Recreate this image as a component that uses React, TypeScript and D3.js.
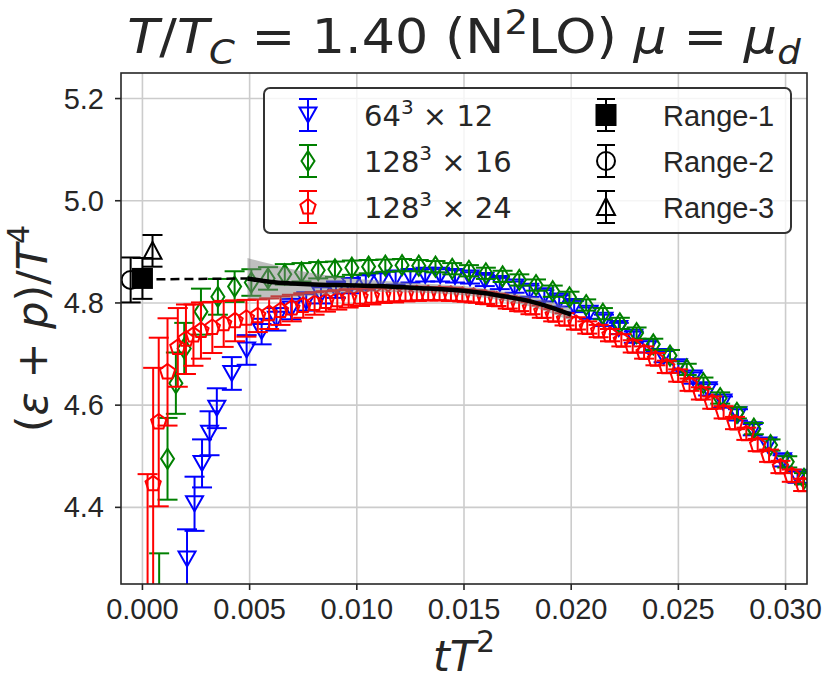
import React from "react";
import * as d3 from "d3";

// ---- data ----
// 64^3 x 12
const blueX = [
  0.00208, 0.00243, 0.00278, 0.00313, 0.00347, 0.00417, 0.00486, 0.00556, 0.00625, 0.00694,
  0.00764, 0.00833, 0.00903, 0.00972, 0.01042, 0.01111, 0.01181, 0.0125, 0.01319, 0.01389,
  0.01458, 0.01528, 0.01597, 0.01667, 0.01736, 0.01806, 0.01875, 0.01944, 0.02014, 0.02083,
  0.02153, 0.02222, 0.02292, 0.02361, 0.02431, 0.025, 0.02569, 0.02639, 0.02708, 0.02778,
  0.02847, 0.02917, 0.02986, 0.03056,
];
const blueY = [
  4.299, 4.407, 4.486, 4.545, 4.594, 4.662, 4.708, 4.744, 4.768, 4.788,
  4.803, 4.816, 4.826, 4.834, 4.84, 4.845, 4.849, 4.852, 4.854, 4.854,
  4.852, 4.849, 4.844, 4.838, 4.831, 4.823, 4.814, 4.804, 4.793, 4.78,
  4.766, 4.75, 4.733, 4.714, 4.695, 4.675, 4.653, 4.63, 4.606, 4.581,
  4.552, 4.522, 4.491, 4.459,
];
const blueErr = [
  0.058, 0.053, 0.047, 0.043, 0.039, 0.032, 0.029, 0.025, 0.022, 0.02,
  0.018, 0.017, 0.016, 0.015, 0.014, 0.013, 0.013, 0.012, 0.012, 0.012,
  0.012, 0.011, 0.011, 0.011, 0.011, 0.011, 0.011, 0.011, 0.011, 0.011,
  0.011, 0.011, 0.011, 0.011, 0.011, 0.011, 0.011, 0.011, 0.011, 0.011,
  0.011, 0.011, 0.011, 0.011,
];

// 128^3 x 16
const greenX = [
  0.00078, 0.00117, 0.00156, 0.00195, 0.00273, 0.00352, 0.0043, 0.00508, 0.00586, 0.00664,
  0.00742, 0.0082, 0.00898, 0.00977, 0.01055, 0.01133, 0.01211, 0.01289, 0.01367, 0.01445,
  0.01523, 0.01602, 0.0168, 0.01758, 0.01836, 0.01914, 0.01992, 0.0207, 0.02148, 0.02227,
  0.02305, 0.02383, 0.02461, 0.02539, 0.02617, 0.02695, 0.02773, 0.02852, 0.0293, 0.03008,
  0.03086,
];
const greenY = [
  4.14, 4.495, 4.643, 4.711, 4.783, 4.812, 4.832, 4.84, 4.848, 4.856,
  4.86, 4.864, 4.866, 4.869, 4.871, 4.873, 4.874, 4.873, 4.871, 4.867,
  4.863, 4.858, 4.852, 4.845, 4.835, 4.823, 4.811, 4.796, 4.779, 4.76,
  4.741, 4.719, 4.697, 4.67, 4.643, 4.614, 4.585, 4.554, 4.522, 4.489,
  4.456,
];
const greenErr = [
  0.17, 0.08, 0.06, 0.05, 0.045, 0.035, 0.03, 0.026, 0.022, 0.02,
  0.018, 0.016, 0.015, 0.014, 0.013, 0.012, 0.012, 0.011, 0.011, 0.011,
  0.011, 0.011, 0.011, 0.011, 0.011, 0.011, 0.011, 0.011, 0.011, 0.011,
  0.011, 0.011, 0.011, 0.011, 0.011, 0.011, 0.011, 0.011, 0.011, 0.011,
  0.011,
];

// 128^3 x 24
const redX = [
  0.00024, 0.0005, 0.00076, 0.00117, 0.00165, 0.00203, 0.00238,
  0.00273, 0.00326, 0.00379, 0.00432, 0.00485, 0.00538, 0.00591, 0.00644, 0.00697, 0.0075,
  0.00803, 0.00856, 0.00909, 0.00962, 0.01015, 0.01068, 0.01121, 0.01174, 0.01227, 0.0128,
  0.01333, 0.01386, 0.01439, 0.01492, 0.01545, 0.01598, 0.01651, 0.01704, 0.01757, 0.0181,
  0.01863, 0.01916, 0.01969, 0.02022, 0.02075, 0.02128, 0.02181, 0.02234, 0.02287, 0.0234,
  0.02393, 0.02446, 0.02499, 0.02552, 0.02605, 0.02658, 0.02711, 0.02764, 0.02817, 0.0287,
  0.02923, 0.02976, 0.03029, 0.03082,
];
const redY = [
  4.22, 4.446, 4.567, 4.665, 4.713, 4.729, 4.737,
  4.746, 4.752, 4.759, 4.765, 4.77, 4.775, 4.779, 4.785, 4.79, 4.795,
  4.799, 4.803, 4.806, 4.809, 4.811, 4.813, 4.815, 4.816, 4.817, 4.818,
  4.818, 4.818, 4.817, 4.815, 4.813, 4.81, 4.806, 4.801, 4.796, 4.79,
  4.783, 4.776, 4.768, 4.76, 4.752, 4.745, 4.737, 4.727, 4.715, 4.703,
  4.69, 4.675, 4.658, 4.64, 4.623, 4.605, 4.586, 4.565, 4.544, 4.522,
  4.501, 4.479, 4.462, 4.444,
];
const redErr = [
  0.245, 0.227, 0.165, 0.105, 0.077, 0.068, 0.06,
  0.055, 0.05, 0.045, 0.04, 0.036, 0.032, 0.03, 0.028, 0.026, 0.024,
  0.022, 0.02, 0.019, 0.018, 0.017, 0.016, 0.015, 0.015, 0.014, 0.014,
  0.013, 0.013, 0.013, 0.012, 0.012, 0.012, 0.012, 0.012, 0.012, 0.012,
  0.012, 0.012, 0.012, 0.012, 0.012, 0.012, 0.012, 0.012, 0.012, 0.012,
  0.012, 0.012, 0.012, 0.012, 0.012, 0.012, 0.012, 0.012, 0.012, 0.012,
  0.012, 0.012, 0.012, 0.012,
];

// continuum fit and its band
const fitX = [0.0049, 0.006, 0.007, 0.008, 0.009, 0.01, 0.011, 0.012, 0.013, 0.014, 0.015, 0.016, 0.017, 0.018, 0.019, 0.02];
const fitY = [4.848, 4.841, 4.838, 4.836, 4.835, 4.834, 4.833, 4.831, 4.829, 4.827, 4.824, 4.819, 4.812, 4.804, 4.792, 4.777];
const fitErr = [0.04, 0.035, 0.028, 0.022, 0.017, 0.013, 0.011, 0.01, 0.009, 0.009, 0.009, 0.009, 0.009, 0.01, 0.011, 0.012];
const extrapX = [0, 0.0049];
const extrapY = [4.846, 4.848];

// continuum limits
const rangeNames = ["Range-1", "Range-2", "Range-3"];
const rangeX = [0, -0.00055, 0.00047];
const rangeY = [4.848, 4.845, 4.902];
const rangeErr = [0.04, 0.044, 0.031];

const xTicks = [0, 0.005, 0.01, 0.015, 0.02, 0.025, 0.03];
const yTicks = [4.4, 4.6, 4.8, 5.0, 5.2];

const W = 831;
const H = 682;
const L = 121, R = 807, T = 73, B = 584;
const ink = "#262626";
const mathFont = "'DejaVu Sans', sans-serif";
const textFont = "'Liberation Sans', Arial, sans-serif";

const x = d3.scaleLinear().domain([-0.001, 0.031]).range([L, R]);
const y = d3.scaleLinear().domain([4.25, 5.25]).range([B, T]);

// marker shapes centred on 0,0
const triDown = "M-8.5,-7.5L8.5,-7.5L0,7.5Z";
const triUp = "M-9,8L9,8L0,-9Z";
const thinDiamond = "M0,-10L6.5,0L0,10L-6.5,0Z";
const pentagon =
  d3.range(5).map((k) => {
    const a = -Math.PI / 2 + (k * 2 * Math.PI) / 5;
    return `${k ? "L" : "M"}${(8 * Math.cos(a)).toFixed(2)},${(8 * Math.sin(a)).toFixed(2)}`;
  }).join("") + "Z";

const CAP = 10;

function ErrSeries({ xs, ys, es, color, marker }: { xs: number[]; ys: number[]; es: number[]; color: string; marker: string }) {
  const pts = xs.map((xv, i) => ({ cx: x(xv), cy: y(ys[i]), lo: y(ys[i] - es[i]), hi: y(ys[i] + es[i]) }));
  return (
    <g stroke={color} strokeWidth={2} fill="none">
      {pts.map((p, i) => (
        <line key={"b" + i} x1={p.cx} x2={p.cx} y1={p.lo} y2={p.hi} />
      ))}
      {pts.map((p, i) => (
        <g key={"c" + i}>
          <line x1={p.cx - CAP} x2={p.cx + CAP} y1={p.lo} y2={p.lo} />
          <line x1={p.cx - CAP} x2={p.cx + CAP} y1={p.hi} y2={p.hi} />
        </g>
      ))}
      {pts.map((p, i) => (
        <path key={"m" + i} d={marker} transform={`translate(${p.cx},${p.cy})`} />
      ))}
    </g>
  );
}

function LegendHandle({ cx, cy, color, children }: { cx: number; cy: number; color: string; children: React.ReactNode }) {
  return (
    <g stroke={color} strokeWidth={2} fill="none" transform={`translate(${cx},${cy})`}>
      <line x1={0} x2={0} y1={-16} y2={16} />
      <line x1={-9} x2={9} y1={-16} y2={-16} />
      <line x1={-9} x2={9} y1={16} y2={16} />
      {children}
    </g>
  );
}

export default function App() {
  const band = d3
    .area<number>()
    .x((d, i) => x(fitX[i]))
    .y0((d, i) => y(fitY[i] - fitErr[i]))
    .y1((d, i) => y(fitY[i] + fitErr[i]))
    .curve(d3.curveMonotoneX)(fitX);
  const fitLine = d3
    .line<number>()
    .x((d, i) => x(fitX[i]))
    .y((d, i) => y(fitY[i]))
    .curve(d3.curveMonotoneX)(fitX);
  const extrap = d3
    .line<number>()
    .x((d) => x(d))
    .y((d, i) => y(extrapY[i]))(extrapX);

  const rows = [115, 161, 207];
  const c1 = 308, c2 = 606, t1 = 364, t2 = 663;

  return (
    <svg width={W} height={H} style={{ position: "absolute", left: 0, top: 0, background: "#fff" }}>
      <defs>
        <clipPath id="axes-clip">
          <rect x={L} y={T} width={R - L} height={B - T} />
        </clipPath>
      </defs>
      <rect x={0} y={0} width={W} height={H} fill="#fff" />

      {/* grid */}
      <g stroke="#cccccc" strokeWidth={1.6}>
        {xTicks.map((t) => (
          <line key={t} x1={x(t)} x2={x(t)} y1={T} y2={B} />
        ))}
        {yTicks.map((t) => (
          <line key={t} x1={L} x2={R} y1={y(t)} y2={y(t)} />
        ))}
      </g>

      <g clipPath="url(#axes-clip)">
        <ErrSeries xs={blueX} ys={blueY} es={blueErr} color="#0000ff" marker={triDown} />
        <ErrSeries xs={greenX} ys={greenY} es={greenErr} color="#008000" marker={thinDiamond} />
        <ErrSeries xs={redX} ys={redY} es={redErr} color="#ff0000" marker={pentagon} />

        <path d={band || ""} fill="#808080" opacity={0.5} />
        <path d={fitLine || ""} fill="none" stroke="#000" strokeWidth={4.5} />
        <path d={extrap || ""} fill="none" stroke="#000" strokeWidth={2.5} strokeDasharray="9 5" />

        {rangeX.map((xv, i) => {
          const cx = x(xv), cy = y(rangeY[i]);
          const lo = y(rangeY[i] - rangeErr[i]), hi = y(rangeY[i] + rangeErr[i]);
          return (
            <g key={rangeNames[i]} stroke="#000" strokeWidth={2} fill="none">
              <line x1={cx} x2={cx} y1={lo} y2={hi} />
              <line x1={cx - CAP} x2={cx + CAP} y1={lo} y2={lo} />
              <line x1={cx - CAP} x2={cx + CAP} y1={hi} y2={hi} />
              {i === 0 && <rect x={cx - 9.5} y={cy - 9.5} width={19} height={19} fill="#000" />}
              {i === 1 && <circle cx={cx} cy={cy} r={9} />}
              {i === 2 && <path d={triUp} transform={`translate(${cx},${cy})`} />}
            </g>
          );
        })}
      </g>

      {/* frame + ticks */}
      <rect x={L} y={T} width={R - L} height={B - T} fill="none" stroke={ink} strokeWidth={1.6} />
      <g stroke={ink} strokeWidth={1.6}>
        {xTicks.map((t) => (
          <line key={t} x1={x(t)} x2={x(t)} y1={B} y2={B + 6} />
        ))}
        {yTicks.map((t) => (
          <line key={t} x1={L - 6} x2={L} y1={y(t)} y2={y(t)} />
        ))}
      </g>
      <g fill={ink} fontFamily={textFont} fontSize={29}>
        {xTicks.map((t) => (
          <text key={t} x={x(t)} y={619} textAnchor="middle">
            {d3.format(".3f")(t)}
          </text>
        ))}
        {yTicks.map((t) => (
          <text key={t} x={104} y={y(t) + 10} textAnchor="end">
            {d3.format(".1f")(t)}
          </text>
        ))}
      </g>

      {/* axis labels */}
      <text x={(L + R) / 2} y={671} textAnchor="middle" fontFamily={mathFont} fontSize={43} fill={ink}>
        <tspan fontStyle="italic">tT</tspan>
        <tspan fontSize={30} dy={-19}>2</tspan>
      </text>
      <text
        transform={`translate(46.5,${(T + B) / 2}) rotate(-90)`}
        textAnchor="middle"
        fontFamily={mathFont}
        fontSize={43}
        fill={ink}
      >
        (<tspan fontStyle="italic">ε</tspan> + <tspan fontStyle="italic">p</tspan>)/<tspan fontStyle="italic">T</tspan>
        <tspan fontSize={30} dy={-18}>4</tspan>
      </text>

      {/* title */}
      <text
        transform={`translate(${(L + R) / 2},53) scale(1.09,1)`}
        textAnchor="middle"
        fontFamily={mathFont}
        fontSize={48}
        fill={ink}
      >
        <tspan fontStyle="italic">T</tspan>/<tspan fontStyle="italic">T</tspan>
        <tspan fontStyle="italic" fontSize={34} dy={11}>C</tspan>
        <tspan dy={-11}> = 1.40 (N</tspan>
        <tspan fontSize={34} dy={-19}>2</tspan>
        <tspan dy={19}>LO) </tspan>
        <tspan fontStyle="italic">μ</tspan> = <tspan fontStyle="italic">μ</tspan>
        <tspan fontStyle="italic" fontSize={34} dy={11}>d</tspan>
      </text>

      {/* legend */}
      <rect x={264} y={88} width={527} height={145} rx={6} fill="#fff" fillOpacity={0.8} stroke="#333" strokeWidth={2} />
      <LegendHandle cx={c1} cy={rows[0]} color="#0000ff">
        <path d={triDown} />
      </LegendHandle>
      <LegendHandle cx={c1} cy={rows[1]} color="#008000">
        <path d={thinDiamond} />
      </LegendHandle>
      <LegendHandle cx={c1} cy={rows[2]} color="#ff0000">
        <path d={pentagon} />
      </LegendHandle>
      <LegendHandle cx={c2} cy={rows[0]} color="#000">
        <rect x={-9.5} y={-10} width={19} height={20} fill="#000" />
      </LegendHandle>
      <LegendHandle cx={c2} cy={rows[1]} color="#000">
        <circle r={9} />
      </LegendHandle>
      <LegendHandle cx={c2} cy={rows[2]} color="#000">
        <path d={triUp} />
      </LegendHandle>
      <g fill={ink} fontFamily={mathFont} fontSize={29}>
        {[["64", "12"], ["128", "16"], ["128", "24"]].map(([a, b], i) => (
          <text key={i} x={t1} y={rows[i] + 11}>
            {a}
            <tspan fontSize={20} dy={-12}>3</tspan>
            <tspan dy={12}> × {b}</tspan>
          </text>
        ))}
      </g>
      <g fill={ink} fontFamily={textFont} fontSize={29}>
        {rangeNames.map((n, i) => (
          <text key={n} x={t2} y={rows[i] + 11}>
            {n}
          </text>
        ))}
      </g>
    </svg>
  );
}
